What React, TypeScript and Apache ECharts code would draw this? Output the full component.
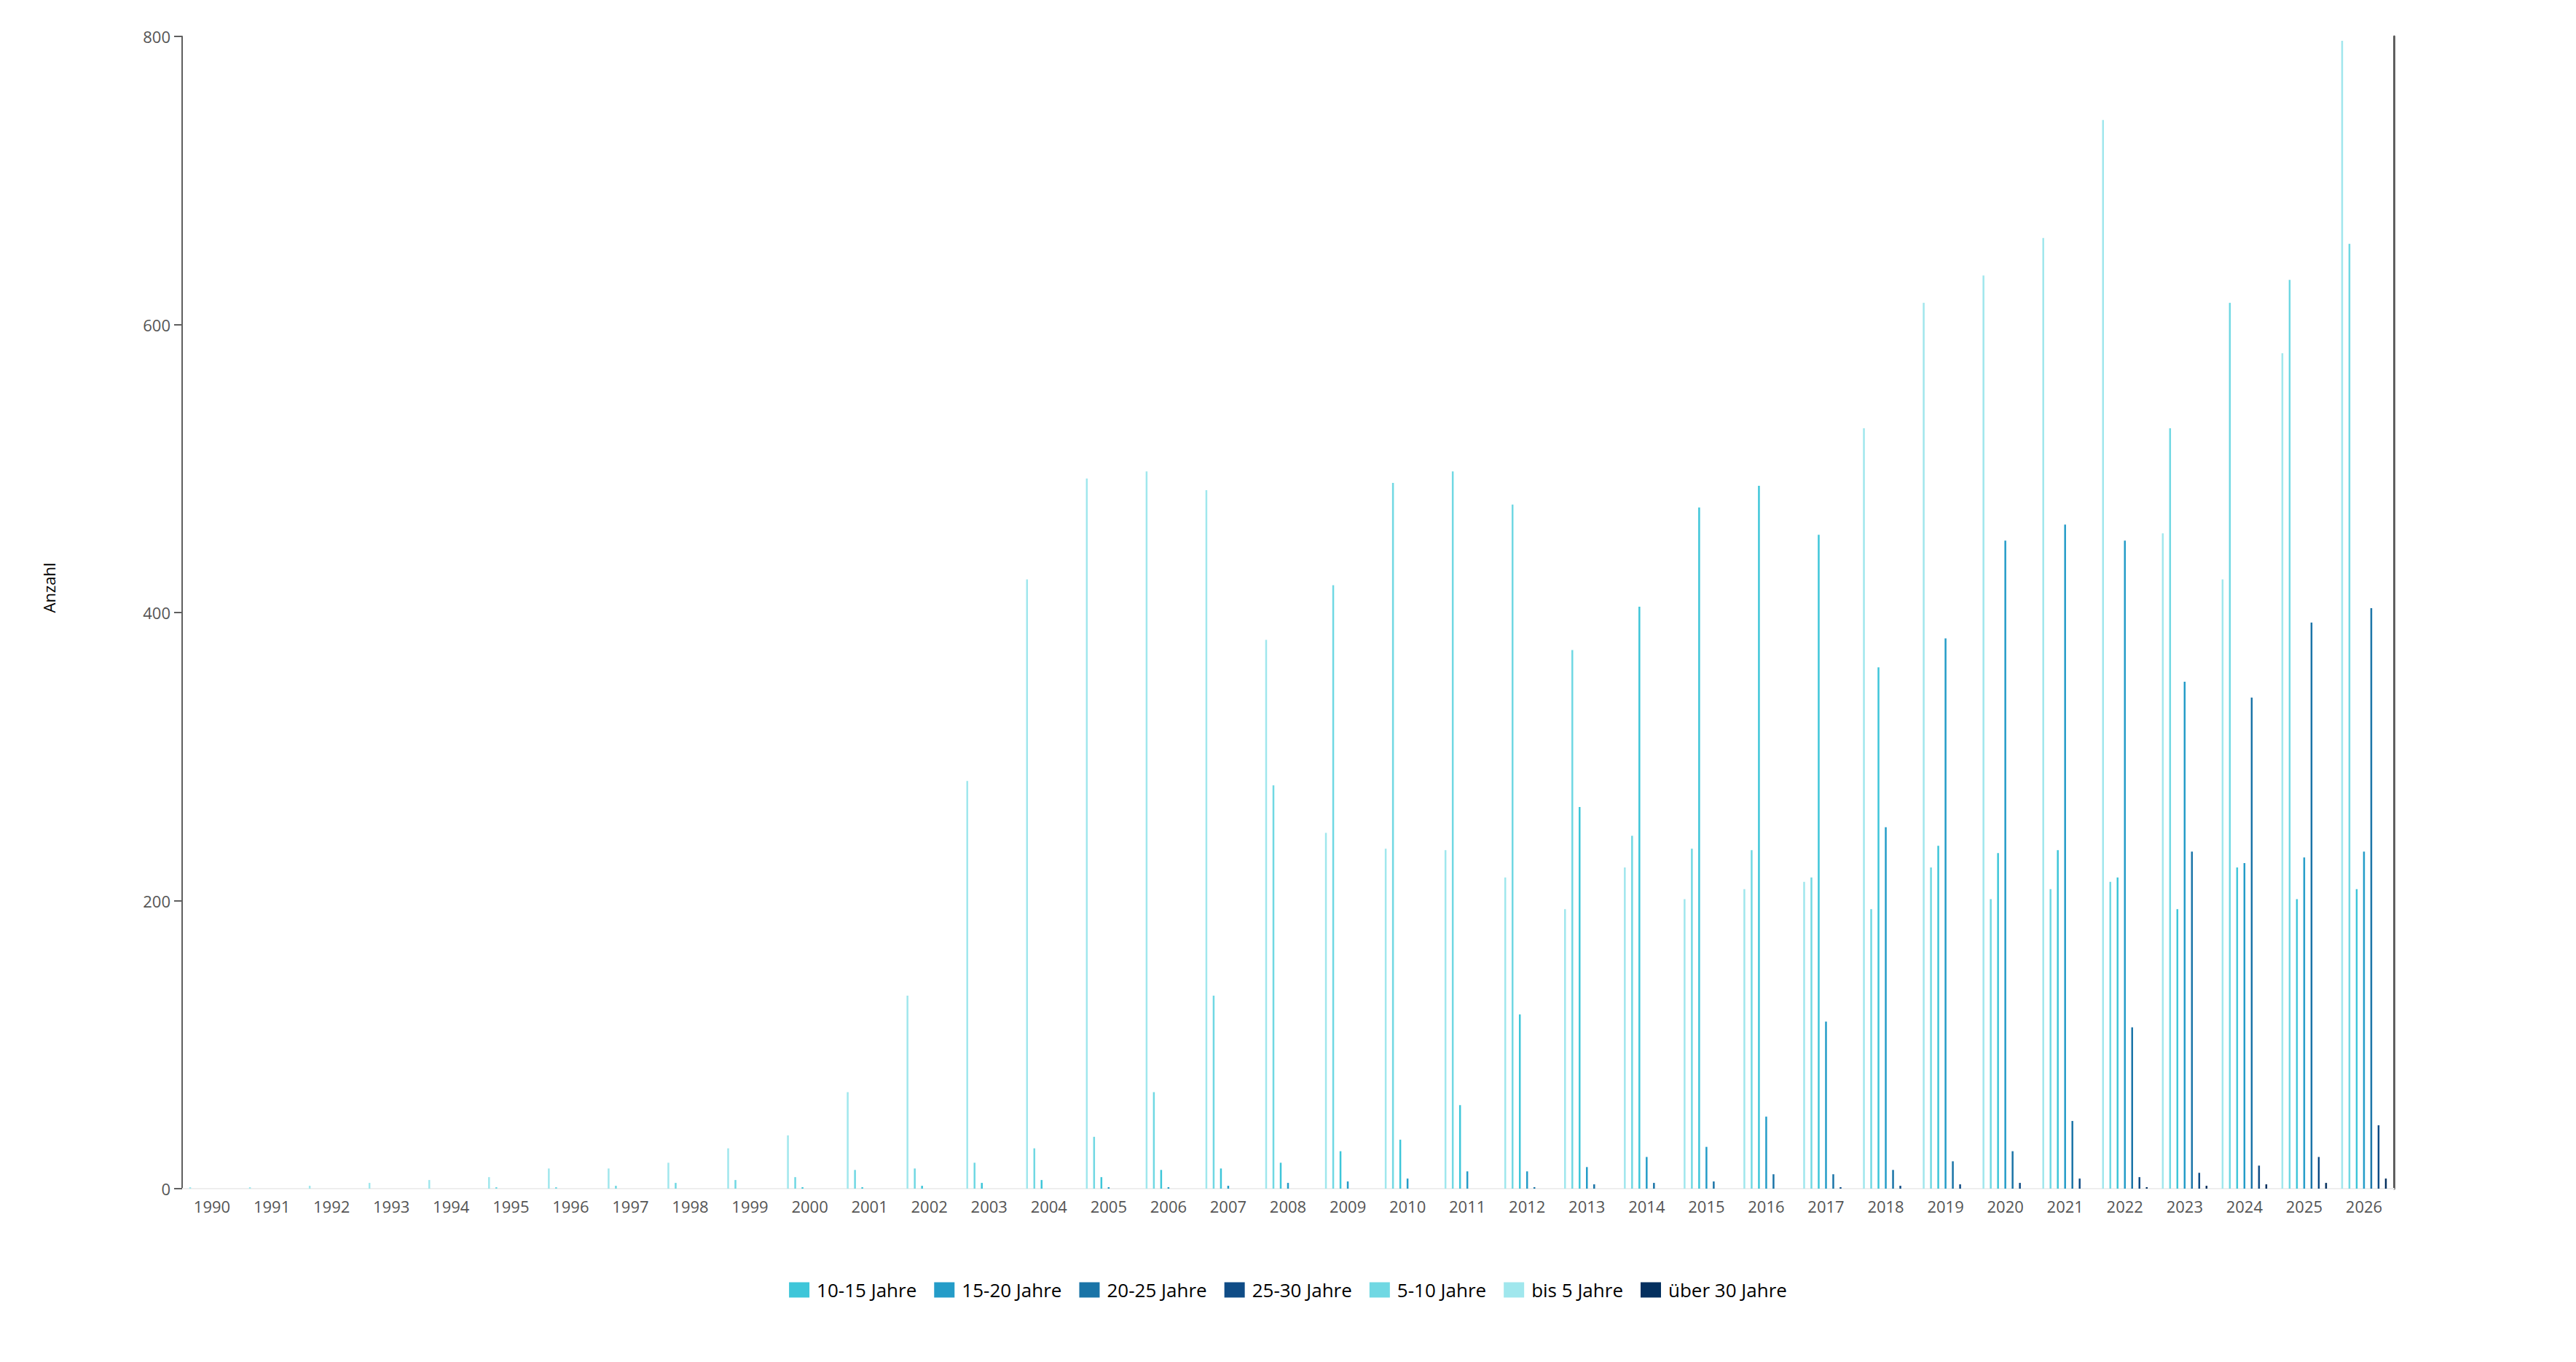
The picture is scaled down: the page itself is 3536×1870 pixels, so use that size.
import React, { useEffect, useRef } from "react";
import * as echarts from "echarts";

const years = [
  "1990","1991","1992","1993","1994","1995","1996","1997","1998","1999",
  "2000","2001","2002","2003","2004","2005","2006","2007","2008","2009",
  "2010","2011","2012","2013","2014","2015","2016","2017","2018","2019",
  "2020","2021","2022","2023","2024","2025","2026",
];

// values per year 1990..2026
const bis5 = [1,1,2,4,6,8,14,14,18,28,37,67,134,283,423,493,498,485,381,247,236,235,216,194,223,201,208,213,528,615,634,660,742,455,423,580,797];
const j5_10 = [0,0,0,0,0,1,1,2,4,6,8,13,14,18,28,36,67,134,280,419,490,498,475,374,245,236,235,216,194,223,201,208,213,528,615,631,656];
const j10_15 = [0,0,0,0,0,0,0,0,0,0,1,1,2,4,6,8,13,14,18,26,34,58,121,265,404,473,488,454,362,238,233,235,216,194,223,201,208];
const j15_20 = [0,0,0,0,0,0,0,0,0,0,0,0,0,0,0,1,1,2,4,5,7,12,12,15,22,29,50,116,251,382,450,461,450,352,226,230,234];
const j20_25 = [0,0,0,0,0,0,0,0,0,0,0,0,0,0,0,0,0,0,0,0,0,0,1,3,4,5,10,10,13,19,26,47,112,234,341,393,403];
const j25_30 = [0,0,0,0,0,0,0,0,0,0,0,0,0,0,0,0,0,0,0,0,0,0,0,0,0,0,0,1,2,3,4,7,8,11,16,22,44];
const ueber30 = [0,0,0,0,0,0,0,0,0,0,0,0,0,0,0,0,0,0,0,0,0,0,0,0,0,0,0,0,0,0,0,0,1,2,3,4,7];

const seriesNames = ["bis 5 Jahre","5-10 Jahre","10-15 Jahre","15-20 Jahre","20-25 Jahre","25-30 Jahre","über 30 Jahre"];
const seriesValues = [bis5, j5_10, j10_15, j15_20, j20_25, j25_30, ueber30];
const seriesColors = ["#a0e7ed","#70d8e3","#3ec6d9","#249cc8","#1a74a7","#0f4c86","#04305f"];
const legendOrder = ["10-15 Jahre","15-20 Jahre","20-25 Jahre","25-30 Jahre","5-10 Jahre","bis 5 Jahre","über 30 Jahre"];
const yTicks = { min: 0, max: 800, interval: 200 };

const FONT = "'Open Sans', 'Noto Sans', sans-serif";

export default function App() {
  const ref = useRef<HTMLDivElement>(null);
  useEffect(() => {
    document.body.style.margin = "0";
    if (!ref.current) return;
    const chart = echarts.init(ref.current, null, { renderer: "svg" });
    const axisGray = "#5f5f5f";
    chart.setOption({
      animation: false,
      textStyle: { fontFamily: FONT },
      grid: { left: 250, right: 250, top: 50, bottom: 238, containLabel: false },
      legend: {
        data: legendOrder,
        left: "center",
        top: 1753,
        itemWidth: 28,
        itemHeight: 21,
        itemGap: 24,
        icon: "rect",
        textStyle: { fontSize: 26, color: "#000", fontFamily: FONT, padding: [0, 0, 0, 5] },
      },
      xAxis: [
        {
          type: "category",
          data: years,
          boundaryGap: true,
          axisLine: { lineStyle: { color: axisGray, width: 2 } },
          axisTick: { alignWithLabel: true, length: 11, lineStyle: { color: axisGray, width: 2 } },
          axisLabel: { fontSize: 22, color: "#555555", margin: 13, interval: 0, fontFamily: FONT },
          splitLine: { show: false },
        },
        {
          type: "category",
          data: years,
          position: "top",
          axisLine: { lineStyle: { color: "#eeeeee", width: 2 } },
          axisTick: { show: false },
          axisLabel: { show: false },
          splitLine: { show: false },
        },
      ],
      yAxis: [
        {
          type: "value",
          min: yTicks.min,
          max: yTicks.max,
          interval: yTicks.interval,
          name: "Anzahl",
          nameLocation: "middle",
          nameGap: 172,
          nameTextStyle: { fontSize: 22, color: "#000", fontFamily: FONT, padding: [0, 0, 0, 68] },
          axisLine: { show: true, lineStyle: { color: axisGray, width: 2 } },
          axisTick: { show: true, length: 11, lineStyle: { color: axisGray, width: 2 } },
          axisLabel: { fontSize: 22, color: "#555555", margin: 16, fontFamily: FONT },
          splitLine: { show: false },
        },
        {
          type: "value",
          position: "right",
          min: yTicks.min,
          max: yTicks.max,
          interval: yTicks.interval,
          axisLine: { show: true, lineStyle: { color: axisGray, width: 3 } },
          axisTick: { show: false },
          axisLabel: { show: false },
          splitLine: { show: false },
        },
      ],
      series: seriesNames.map((name, i) => ({
        name,
        type: "bar",
        xAxisIndex: 0,
        yAxisIndex: 0,
        data: seriesValues[i],
        barWidth: 2.5,
        barGap: "300%",
        itemStyle: { color: seriesColors[i] },
      })),
    });
    return () => chart.dispose();
  }, []);
  return <div ref={ref} style={{ width: 3536, height: 1870 }} />;
}
